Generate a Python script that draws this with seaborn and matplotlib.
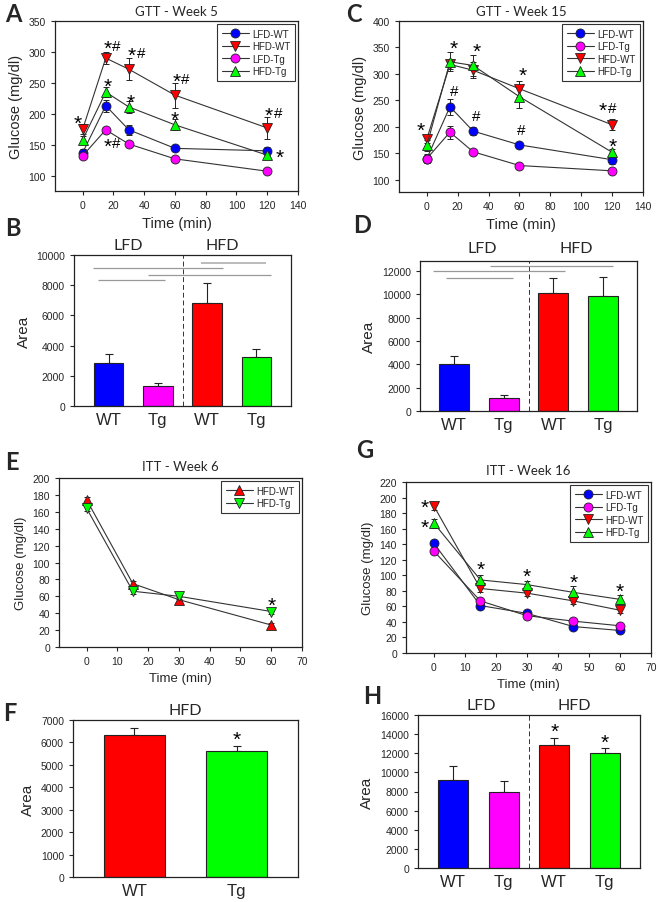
import numpy as np
import pandas as pd
import matplotlib
matplotlib.use("Agg")
import matplotlib.pyplot as plt
import seaborn as sns

# ---------------- data ----------------
gtt_time = [0, 15, 30, 60, 120]
itt_time = [0, 15, 30, 45, 60]
itt6_time = [0, 15, 30, 60]

# GTT week 5 (panel A)
a_lfd_wt = [137, 213, 174, 144, 140]
a_lfd_wt_err = [6, 10, 8, 4, 6]
a_hfd_wt = [175, 290, 272, 230, 177]
a_hfd_wt_err = [8, 10, 18, 20, 18]
a_lfd_tg = [132, 174, 151, 127, 107]
a_lfd_tg_err = [4, 5, 5, 4, 3]
a_hfd_tg = [158, 235, 211, 182, 133]
a_hfd_tg_err = [6, 8, 10, 9, 5]

# GTT week 15 (panel C)
c_lfd_wt = [140, 238, 192, 166, 138]
c_lfd_wt_err = [8, 15, 8, 6, 8]
c_lfd_tg = [140, 190, 153, 127, 117]
c_lfd_tg_err = [6, 12, 5, 4, 4]
c_hfd_wt = [177, 318, 307, 272, 204]
c_hfd_wt_err = [8, 8, 15, 15, 10]
c_hfd_tg = [165, 323, 316, 257, 152]
c_hfd_tg_err = [10, 18, 20, 22, 6]

# AUC (panels B, D)
bar_groups = ["LFD-WT", "LFD-Tg", "HFD-WT", "HFD-Tg"]
bar_ticklabels = ["WT", "Tg", "WT", "Tg"]
b_area = [2850, 1300, 6850, 3250]
b_area_err = [580, 250, 1300, 500]
d_area = [4050, 1150, 10150, 9850]
d_area_err = [650, 250, 1250, 1600]

# ITT week 6 (panel E)
e_hfd_wt = [174, 75, 56, 26]
e_hfd_wt_err = [3, 3, 3, 2]
e_hfd_tg = [164, 66, 60, 42]
e_hfd_tg_err = [3, 3, 3, 3]

# AUC ITT week 6 (panel F)
f_groups = ["WT", "Tg"]
f_area = [6350, 5620]
f_area_err = [280, 200]

# ITT week 16 (panel G)
g_lfd_wt = [141, 61, 51, 34, 29]
g_lfd_wt_err = [5, 3, 3, 2, 2]
g_lfd_tg = [131, 67, 48, 41, 35]
g_lfd_tg_err = [4, 3, 3, 3, 2]
g_hfd_wt = [189, 83, 77, 67, 55]
g_hfd_wt_err = [5, 4, 4, 4, 4]
g_hfd_tg = [167, 94, 88, 78, 69]
g_hfd_tg_err = [6, 6, 5, 8, 6]

# AUC ITT week 16 (panel H)
h_area = [9250, 7950, 12900, 12000]
h_area_err = [1400, 1100, 650, 500]

BLUE, MAGENTA, RED, GREEN = "#0000FF", "#FF00FF", "#FF0000", "#00FF00"
bar_colors = [BLUE, MAGENTA, RED, GREEN]

# ---------------- style ----------------
sns.set_style("ticks")
plt.rcParams["font.family"] = ["Liberation Sans", "DejaVu Sans"]
plt.rcParams["axes.edgecolor"] = "#222222"
plt.rcParams["axes.linewidth"] = 0.9
plt.rcParams["xtick.major.size"] = 3
plt.rcParams["ytick.major.size"] = 3
plt.rcParams["xtick.major.width"] = 0.8
plt.rcParams["ytick.major.width"] = 0.8
plt.rcParams["xtick.labelsize"] = 7.5
plt.rcParams["ytick.labelsize"] = 7.5

TITLE_FONT = ["Lato", "DejaVu Sans"]
W, H = 660, 903
fig = plt.figure(figsize=(6.6, 9.03), dpi=100)


def box(l, t, r, b):
    return fig.add_axes([l / W, 1 - b / H, (r - l) / W, (b - t) / H])


def frame(ax):
    for s in ax.spines.values():
        s.set_visible(True)


def line_panel(ax, t, series):
    for vals, err, col, mk, lab in series:
        ax.errorbar(t, vals, yerr=err, fmt="none", ecolor="#222222",
                    elinewidth=0.7, capsize=2.5, capthick=0.7, zorder=1.5)
        sns.lineplot(x=t, y=vals, ax=ax, color="#333333", linewidth=0.8,
                     marker=mk, markersize=6.5, markerfacecolor=col,
                     markeredgecolor="#222222", markeredgewidth=0.6,
                     label=lab, zorder=3)
    h, l = ax.get_legend_handles_labels()
    ax.legend(h, l, loc="upper right", fontsize=7, frameon=True,
              fancybox=False, edgecolor="#333333", framealpha=1,
              handlelength=2.8, borderpad=0.5, labelspacing=0.25,
              borderaxespad=0.3, handletextpad=0.3)
    ax.get_legend().get_frame().set_linewidth(0.8)
    frame(ax)


def bar_panel(ax, groups, vals, err, colors, ticklabels):
    sns.barplot(x=groups, y=vals, hue=groups, palette=colors, legend=False,
                saturation=1, width=0.6, edgecolor="#222222", linewidth=0.8,
                ax=ax, zorder=2)
    pos = np.arange(len(groups))
    ax.errorbar(pos, vals, yerr=[np.zeros(len(vals)), err], fmt="none",
                ecolor="#222222", elinewidth=0.8, capsize=3, capthick=0.8,
                zorder=1.5)
    ax.set_xticks(pos)
    ax.set_xticklabels(ticklabels, fontsize=12)
    ax.tick_params(axis="x", length=0, pad=4)
    ax.set_ylabel("Area", fontsize=11)
    frame(ax)


STAR_DY = -6.6


def mark(ax, x, y, s):
    # glyph centred on (x, y): asterisk and hash get their own size
    if s == "*\n*":
        ax.annotate(s, (x, y), xytext=(0, STAR_DY), textcoords="offset points",
                    ha="center", va="baseline", fontsize=15, linespacing=1.1,
                    color="black")
        return
    parts = list(s)
    n = len(parts)
    for i, ch in enumerate(parts):
        dx = (i - (n - 1) / 2) * 6.5
        if ch == "*":
            size, dy = 15, STAR_DY
        else:
            size, dy = 11, -3.8
        ax.annotate(ch, (x, y), xytext=(dx, dy), textcoords="offset points",
                    ha="center", va="baseline", fontsize=size, color="black")


def letter(x, y, s):
    fig.text(x / W, 1 - y / H, s, fontsize=17, fontweight="bold",
             family=TITLE_FONT, ha="left", va="center")


# ---------------- A ----------------
ax = box(55, 22, 298, 192)
line_panel(ax, gtt_time, [
    (a_lfd_wt, a_lfd_wt_err, BLUE, "o", "LFD-WT"),
    (a_hfd_wt, a_hfd_wt_err, RED, "v", "HFD-WT"),
    (a_lfd_tg, a_lfd_tg_err, MAGENTA, "o", "LFD-Tg"),
    (a_hfd_tg, a_hfd_tg_err, GREEN, "^", "HFD-Tg"),
])
ax.set_xlim(-18, 140)
ax.set_ylim(75, 350)
ax.set_xticks(range(0, 141, 20))
ax.set_yticks(range(100, 351, 50))
ax.set_xlabel("Time (min)", fontsize=10.5)
ax.set_ylabel("Glucose (mg/dl)", fontsize=10.5)
ax.set_title("GTT - Week 5", fontsize=9.5, family=TITLE_FONT, pad=4)
for x, y, s in [(-3, 190, "*"), (19, 311, "*#"), (35, 300, "*#"),
                (16, 251, "*"), (31, 225, "*"), (64, 259, "*#"),
                (60, 197, "*"), (124, 204, "*#"), (128, 136, "*"),
                (19, 154, "*#")]:
    mark(ax, x, y, s)

# ---------------- C ----------------
ax = box(399, 22, 643, 193)
line_panel(ax, gtt_time, [
    (c_lfd_wt, c_lfd_wt_err, BLUE, "o", "LFD-WT"),
    (c_lfd_tg, c_lfd_tg_err, MAGENTA, "o", "LFD-Tg"),
    (c_hfd_wt, c_hfd_wt_err, RED, "v", "HFD-WT"),
    (c_hfd_tg, c_hfd_tg_err, GREEN, "^", "HFD-Tg"),
])
ax.set_xlim(-18, 140)
ax.set_ylim(77, 400)
ax.set_xticks(range(0, 141, 20))
ax.set_yticks(range(100, 401, 50))
ax.set_xlabel("Time (min)", fontsize=10.5)
ax.set_ylabel("Glucose (mg/dl)", fontsize=10.5)
ax.set_title("GTT - Week 15", fontsize=9.5, family=TITLE_FONT, pad=4)
for x, y, s in [(-4, 200, "*"), (17.5, 355, "*"), (32, 349, "*"),
                (62, 304, "*"), (117, 238, "*#"), (120.5, 170, "*"),
                (17.5, 270, "#"), (32, 223, "#"), (61, 196, "#")]:
    mark(ax, x, y, s)

# ---------------- B ----------------
ax = box(74, 256, 291, 407)
bar_panel(ax, bar_groups, b_area, b_area_err, bar_colors, bar_ticklabels)
ax.set_xlim(-0.7, 3.7)
ax.set_ylim(0, 10000)
ax.set_yticks(range(0, 10001, 2000))
ax.axvline(1.5, color="#333333", linestyle=(0, (5, 3)), linewidth=0.7)
ax.hlines([9450, 9130, 8680, 8360], [1.87, -0.32, 0.8, -0.22],
          [3.2, 2.33, 3.3, 1.14], colors=["#bbbbbb", "#999999", "#999999", "#999999"],
          linewidth=[1.4, 0.9, 0.9, 0.9])
ax.text(0.4, 1.02, "LFD", transform=ax.get_xaxis_transform(), ha="center",
        va="bottom", fontsize=11.5, family=TITLE_FONT)
ax.text(2.3, 1.02, "HFD", transform=ax.get_xaxis_transform(), ha="center",
        va="bottom", fontsize=11.5, family=TITLE_FONT)

# ---------------- D ----------------
ax = box(420, 262, 637, 412)
bar_panel(ax, bar_groups, d_area, d_area_err, bar_colors, bar_ticklabels)
ax.set_xlim(-0.68, 3.68)
ax.set_ylim(0, 12850)
ax.set_yticks(range(0, 12001, 2000))
ax.axvline(1.5, color="#333333", linestyle=(0, (5, 3)), linewidth=0.7)
ax.hlines([12430, 12000, 11400], [0.72, -0.42, -0.16], [3.2, 2.23, 1.19],
          colors="#999999", linewidth=0.9)
ax.text(0.58, 1.04, "LFD", transform=ax.get_xaxis_transform(), ha="center",
        va="bottom", fontsize=11.5, family=TITLE_FONT)
ax.text(2.45, 1.04, "HFD", transform=ax.get_xaxis_transform(), ha="center",
        va="bottom", fontsize=11.5, family=TITLE_FONT)

# ---------------- E ----------------
ax = box(59, 479, 302, 648)
line_panel(ax, itt6_time, [
    (e_hfd_wt, e_hfd_wt_err, RED, "^", "HFD-WT"),
    (e_hfd_tg, e_hfd_tg_err, GREEN, "v", "HFD-Tg"),
])
ax.set_xlim(-9, 70)
ax.set_ylim(0, 200)
ax.set_xticks(range(0, 71, 10))
ax.set_yticks(range(0, 201, 20))
ax.set_xlabel("Time (min)", fontsize=9.5)
ax.set_ylabel("Glucose (mg/dl)", fontsize=9.5)
ax.set_title("ITT - Week 6", fontsize=9.5, family=TITLE_FONT, pad=6)
mark(ax, 60, 54, "*")

# ---------------- F ----------------
ax = box(73, 721, 298, 878)
bar_panel(ax, f_groups, f_area, f_area_err, [RED, GREEN], f_groups)
ax.set_xlim(-0.6, 1.6)
ax.set_ylim(0, 7000)
ax.set_yticks(range(0, 7001, 1000))
ax.set_title("HFD", fontsize=11.5, family=TITLE_FONT, pad=4)
mark(ax, 1, 6290, "*")

# ---------------- G ----------------
ax = box(406, 483, 651, 654)
line_panel(ax, itt_time, [
    (g_lfd_wt, g_lfd_wt_err, BLUE, "o", "LFD-WT"),
    (g_lfd_tg, g_lfd_tg_err, MAGENTA, "o", "LFD-Tg"),
    (g_hfd_wt, g_hfd_wt_err, RED, "v", "HFD-WT"),
    (g_hfd_tg, g_hfd_tg_err, GREEN, "^", "HFD-Tg"),
])
ax.set_xlim(-9, 70)
ax.set_ylim(0, 220)
ax.set_xticks(range(0, 71, 10))
ax.set_yticks(range(0, 221, 20))
ax.set_xlabel("Time (min)", fontsize=9.5)
ax.set_ylabel("Glucose (mg/dl)", fontsize=9.5)
ax.set_title("ITT - Week 16", fontsize=9.5, family=TITLE_FONT, pad=6)
mark(ax, -3, 166, "*\n*")
for x, y, s in [(15.2, 112, "*"), (30, 103, "*"), (45, 95, "*"),
                (60, 84, "*")]:
    mark(ax, x, y, s)

# ---------------- H ----------------
ax = box(418, 716, 640, 869)
bar_panel(ax, bar_groups, h_area, h_area_err, bar_colors, bar_ticklabels)
ax.set_xlim(-0.7, 3.7)
ax.set_ylim(0, 16000)
ax.set_yticks(range(0, 16001, 2000))
ax.axvline(1.5, color="#333333", linestyle=(0, (5, 3)), linewidth=0.7)
ax.text(0.55, 1.02, "LFD", transform=ax.get_xaxis_transform(), ha="center",
        va="bottom", fontsize=11.5, family=TITLE_FONT)
ax.text(2.4, 1.02, "HFD", transform=ax.get_xaxis_transform(), ha="center",
        va="bottom", fontsize=11.5, family=TITLE_FONT)
mark(ax, 2, 14700, "*")
mark(ax, 3, 13490, "*")

# ---------------- panel letters ----------------
for x, y, s in [(5, 14, "A"), (346, 14, "C"), (5, 229, "B"), (353, 226, "D"),
                (5, 463, "E"), (356, 451, "G"), (3, 714, "F"), (363, 696, "H")]:
    letter(x, y, s)

fig.savefig("out.png", dpi=100, facecolor="white")
